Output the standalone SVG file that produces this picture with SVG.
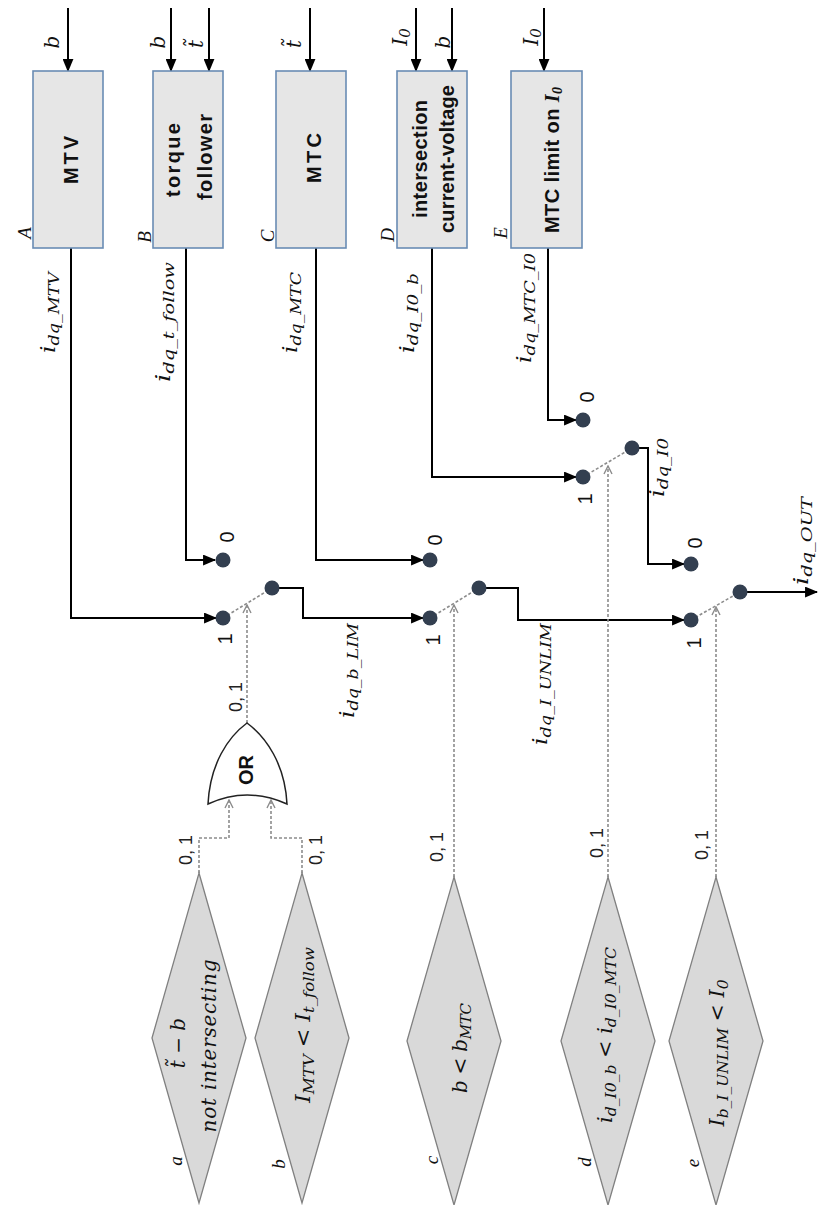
<svg xmlns="http://www.w3.org/2000/svg" width="819" height="1205" viewBox="0 0 819 1205">
<style>
.box{fill:#e6e6e6;stroke:#6a8cb4;stroke-width:1.6}
.dia{fill:#d9d9d9;stroke:#808080;stroke-width:1.3}
.gate{fill:#fff;stroke:#222;stroke-width:1.5}
.w{fill:none;stroke:#000;stroke-width:2}
.d{fill:none;stroke:#8c8c8c;stroke-width:1.6;stroke-dasharray:3 2}
.dot{fill:#333f50}
.bt{font-family:"Liberation Sans",Arial,sans-serif;font-weight:bold;font-size:20px;fill:#111;text-anchor:middle}
.m{font-family:"DejaVu Serif","Liberation Serif",serif;font-style:italic;font-size:20px;fill:#111}
.s{font-size:15px}
.lt{font-family:"Liberation Serif",serif;font-style:italic;font-size:19px;fill:#111;text-anchor:middle}
.n{font-family:"Liberation Sans",Arial,sans-serif;font-size:20px;fill:#111;text-anchor:middle}
.c{font-family:"Liberation Sans",Arial,sans-serif;font-size:18px;fill:#222;text-anchor:middle}
.mid{text-anchor:middle}
</style>
<defs>
<marker id="ah" viewBox="0 0 12 10" refX="11" refY="5" markerWidth="13" markerHeight="11" markerUnits="userSpaceOnUse" orient="auto"><path d="M0,0 L12,5 L0,10 z" fill="#000"/></marker>
<marker id="oh" viewBox="0 0 10 10" refX="9" refY="5" markerWidth="10" markerHeight="10" markerUnits="userSpaceOnUse" orient="auto"><path d="M1,1 L9,5 L1,9" fill="none" stroke="#8c8c8c" stroke-width="1.4"/></marker>
</defs>

<g id="connectors">
  <path class="w" d="M68,8 V71" marker-end="url(#ah)"/>
  <path class="w" d="M171,8 V71" marker-end="url(#ah)"/>
  <path class="w" d="M209,8 V71" marker-end="url(#ah)"/>
  <path class="w" d="M310,8 V71" marker-end="url(#ah)"/>
  <path class="w" d="M416,8 V71" marker-end="url(#ah)"/>
  <path class="w" d="M452,8 V71" marker-end="url(#ah)"/>
  <path class="w" d="M544,8 V71" marker-end="url(#ah)"/>
  <path class="w" d="M71,248 V618 H216" marker-end="url(#ah)"/>
  <path class="w" d="M186,248 V560 H215" marker-end="url(#ah)"/>
  <path class="w" d="M316,248 V560 H423" marker-end="url(#ah)"/>
  <path class="w" d="M432,248 V477 H576" marker-end="url(#ah)"/>
  <path class="w" d="M548,248 V420 H576" marker-end="url(#ah)"/>
  <path class="w" d="M272,588 H303 V618 H423" marker-end="url(#ah)"/>
  <path class="w" d="M479,588 H518 V620 H684" marker-end="url(#ah)"/>
  <path class="w" d="M632,448 H648 V564 H684" marker-end="url(#ah)"/>
  <path class="w" d="M740,592 H817" marker-end="url(#ah)"/>
  <path class="d" d="M223,618 L272,588"/>
  <path class="d" d="M430,618 L479,588"/>
  <path class="d" d="M691,620 L740,592"/>
  <path class="d" d="M583,477 L632,448"/>
  <path class="d" d="M247,723 V605" marker-end="url(#oh)"/>
  <path class="d" d="M199,873 V838 H229 V800" marker-end="url(#oh)"/>
  <path class="d" d="M302,873 V838 H271 V800" marker-end="url(#oh)"/>
  <path class="d" d="M454,877 V605" marker-end="url(#oh)"/>
  <path class="d" d="M608,877 V466" marker-end="url(#oh)"/>
  <path class="d" d="M716,877 V607" marker-end="url(#oh)"/>
</g>

<g id="blockA">
  <rect class="box" x="33" y="71" width="70" height="177"/>
  <text class="bt" transform="translate(78,160) rotate(-90)" textLength="48">MTV</text>
  <text class="lt" transform="translate(31,233) rotate(-90)">A</text>
  <text class="m mid" transform="translate(59,42) rotate(-90)">b</text>
</g>
<g id="blockB">
  <rect class="box" x="153" y="71" width="70" height="177"/>
  <text class="bt" transform="translate(180,160) rotate(-90)" textLength="74">torque</text>
  <text class="bt" transform="translate(212,157) rotate(-90)" textLength="86">follower</text>
  <text class="lt" transform="translate(151,237) rotate(-90)">B</text>
  <text class="m mid" transform="translate(165,42) rotate(-90)">b</text>
  <text class="m mid" transform="translate(203,44) rotate(-90)">t&#771;</text>
</g>
<g id="blockC">
  <rect class="box" x="276" y="71" width="70" height="177"/>
  <text class="bt" transform="translate(321,158) rotate(-90)" textLength="50">MTC</text>
  <text class="lt" transform="translate(274,236) rotate(-90)">C</text>
  <text class="m mid" transform="translate(301,44) rotate(-90)">t&#771;</text>
</g>
<g id="blockD">
  <rect class="box" x="397" y="71" width="70" height="177"/>
  <text class="bt" transform="translate(427,159) rotate(-90)" textLength="118">intersection</text>
  <text class="bt" transform="translate(454,159) rotate(-90)" textLength="148">current-voltage</text>
  <text class="lt" transform="translate(394,235) rotate(-90)">D</text>
  <text class="m mid" transform="translate(407,37) rotate(-90)">I<tspan class="s" dy="3">0</tspan></text>
  <text class="m mid" transform="translate(450,42) rotate(-90)">b</text>
</g>
<g id="blockE">
  <rect class="box" x="511" y="71" width="71" height="177"/>
  <text class="bt" transform="translate(559,160) rotate(-90)" textLength="146">MTC limit on <tspan font-family="Liberation Serif,serif" font-style="italic">I</tspan><tspan font-family="Liberation Serif,serif" font-style="italic" font-size="14" dy="3">0</tspan></text>
  <text class="lt" transform="translate(507,233) rotate(-90)">E</text>
  <text class="m mid" transform="translate(538,37) rotate(-90)">I<tspan class="s" dy="3">0</tspan></text>
</g>

<g id="signal-labels">
  <text class="m" transform="translate(55,353) rotate(-90)" textLength="81" lengthAdjust="spacingAndGlyphs">i<tspan class="s" dy="4">dq_MTV</tspan></text>
  <text class="m" transform="translate(170,382) rotate(-90)" textLength="120" lengthAdjust="spacingAndGlyphs">i<tspan class="s" dy="4">dq_t_follow</tspan></text>
  <text class="m" transform="translate(297,353) rotate(-90)" textLength="81" lengthAdjust="spacingAndGlyphs">i<tspan class="s" dy="4">dq_MTC</tspan></text>
  <text class="m" transform="translate(414,353) rotate(-90)" textLength="80" lengthAdjust="spacingAndGlyphs">i<tspan class="s" dy="4">dq_I0_b</tspan></text>
  <text class="m" transform="translate(531,363) rotate(-90)" textLength="110" lengthAdjust="spacingAndGlyphs">i<tspan class="s" dy="4">dq_MTC_I0</tspan></text>
  <text class="m" transform="translate(664,497) rotate(-90)" textLength="59" lengthAdjust="spacingAndGlyphs">i<tspan class="s" dy="4">dq_I0</tspan></text>
  <text class="m" transform="translate(808,585) rotate(-90)" textLength="88" lengthAdjust="spacingAndGlyphs">i<tspan class="s" dy="4">dq_OUT</tspan></text>
  <text class="m" transform="translate(354,718) rotate(-90)" textLength="95" lengthAdjust="spacingAndGlyphs">i<tspan class="s" dy="4">dq_b_LIM</tspan></text>
  <text class="m" transform="translate(547,745) rotate(-90)" textLength="122" lengthAdjust="spacingAndGlyphs">i<tspan class="s" dy="4">dq_I_UNLIM</tspan></text>
</g>

<g id="switch1">
  <circle class="dot" cx="223" cy="618" r="7.5"/>
  <circle class="dot" cx="223" cy="560" r="7.5"/>
  <circle class="dot" cx="272" cy="588" r="7.5"/>
  <text class="n" transform="translate(232,639) rotate(-90)">1</text>
  <text class="n" transform="translate(234,537) rotate(-90)">0</text>
</g>
<g id="switch2">
  <circle class="dot" cx="430" cy="618" r="7.5"/>
  <circle class="dot" cx="430" cy="560" r="7.5"/>
  <circle class="dot" cx="479" cy="588" r="7.5"/>
  <text class="n" transform="translate(440,640) rotate(-90)">1</text>
  <text class="n" transform="translate(442,540) rotate(-90)">0</text>
</g>
<g id="switch3">
  <circle class="dot" cx="691" cy="620" r="7.5"/>
  <circle class="dot" cx="691" cy="564" r="7.5"/>
  <circle class="dot" cx="740" cy="592" r="7.5"/>
  <text class="n" transform="translate(701,643) rotate(-90)">1</text>
  <text class="n" transform="translate(702,543) rotate(-90)">0</text>
</g>
<g id="switch4">
  <circle class="dot" cx="583" cy="477" r="7.5"/>
  <circle class="dot" cx="583" cy="420" r="7.5"/>
  <circle class="dot" cx="632" cy="448" r="7.5"/>
  <text class="n" transform="translate(592,499) rotate(-90)">1</text>
  <text class="n" transform="translate(594,397) rotate(-90)">0</text>
</g>

<g id="or-gate">
  <path class="gate" d="M247,723 C228,737 210,764 208,804 Q247,786 287,804 C285,764 266,737 247,723 Z"/>
  <text class="bt" font-size="19" transform="translate(253,770) rotate(-90)">OR</text>
  <text class="c" transform="translate(242,697) rotate(-90)">0, 1</text>
</g>

<g id="condA">
  <polygon class="dia" points="199,873 246,1038 199,1203 152,1038"/>
  <text class="m mid" transform="translate(185,1043) rotate(-90)">t&#771; &#8722; b</text>
  <text class="m mid" transform="translate(216,1046) rotate(-90)" textLength="173">not intersecting</text>
  <text class="lt" transform="translate(182,1161) rotate(-90)">a</text>
  <text class="c" transform="translate(192,850) rotate(-90)">0, 1</text>
</g>
<g id="condB">
  <polygon class="dia" points="302,873 349,1038 302,1203 255,1038"/>
  <text class="m mid" transform="translate(310,1025) rotate(-90)" textLength="156" lengthAdjust="spacingAndGlyphs">I<tspan class="s" dy="4">MTV</tspan><tspan dy="-4"> &lt; I</tspan><tspan class="s" dy="4">t_follow</tspan></text>
  <text class="lt" transform="translate(285,1164) rotate(-90)">b</text>
  <text class="c" transform="translate(322,850) rotate(-90)">0, 1</text>
</g>
<g id="condC">
  <polygon class="dia" points="454,877 501,1041 454,1205 407,1041"/>
  <text class="m mid" transform="translate(467,1048) rotate(-90)" textLength="90">b &lt; b<tspan class="s" dy="4">MTC</tspan></text>
  <text class="lt" transform="translate(438,1160) rotate(-90)">c</text>
  <text class="c" transform="translate(443,847) rotate(-90)">0, 1</text>
</g>
<g id="condD">
  <polygon class="dia" points="608,877 655,1041 608,1205 561,1041"/>
  <text class="m mid" transform="translate(612,1035) rotate(-90)" textLength="176" lengthAdjust="spacingAndGlyphs">i<tspan class="s" dy="4">d_I0_b</tspan><tspan dy="-4"> &lt; i</tspan><tspan class="s" dy="4">d_I0_MTC</tspan></text>
  <text class="lt" transform="translate(591,1162) rotate(-90)">d</text>
  <text class="c" transform="translate(603,843) rotate(-90)">0, 1</text>
</g>
<g id="condE">
  <polygon class="dia" points="716,877 763,1041 716,1205 669,1041"/>
  <text class="m mid" transform="translate(724,1053) rotate(-90)" textLength="147" lengthAdjust="spacingAndGlyphs">I<tspan class="s" dy="4">b_I_UNLIM</tspan><tspan dy="-4"> &lt; I</tspan><tspan class="s" dy="4">0</tspan></text>
  <text class="lt" transform="translate(699,1163) rotate(-90)">e</text>
  <text class="c" transform="translate(708,845) rotate(-90)">0, 1</text>
</g>
</svg>
